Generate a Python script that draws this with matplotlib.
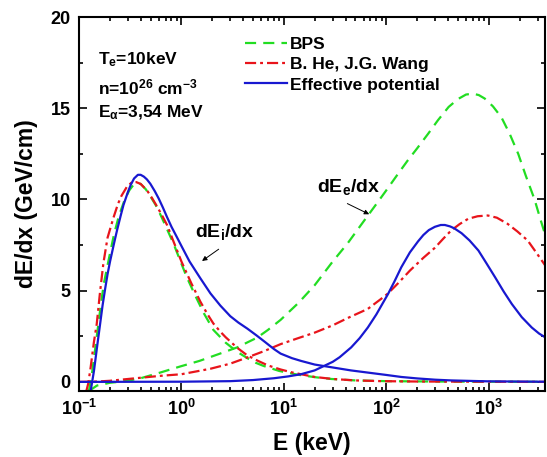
import numpy as np
import matplotlib
matplotlib.use('Agg')
import matplotlib.pyplot as plt
from matplotlib.ticker import LogLocator, NullFormatter, MultipleLocator

plt.rcParams['font.family'] = 'Liberation Sans'
plt.rcParams['font.weight'] = 'bold'
plt.rcParams['mathtext.fontset'] = 'custom'
plt.rcParams['mathtext.bf'] = 'Liberation Sans:bold'
plt.rcParams['mathtext.rm'] = 'Liberation Sans:bold'
plt.rcParams['mathtext.it'] = 'Liberation Sans:bold'
plt.rcParams['mathtext.default'] = 'bf'

# ---------- data (E in keV, dE/dx in GeV/cm) ----------
# ion stopping
E_bps_i = [0.125, 0.135, 0.15, 0.165, 0.175, 0.2, 0.22, 0.24, 0.26, 0.28, 0.31, 0.34, 0.37, 0.40,
           0.45, 0.5, 0.56, 0.62, 0.72, 0.84, 0.98, 1.13, 1.4, 1.66, 2.05, 2.7, 3.5, 4.4, 5.3, 6.3,
           9.0, 13.5, 20, 29, 50, 100, 300, 1000, 3540]
v_bps_i = [-0.5, 0.6, 2.6, 4.4, 5.4, 7.0, 8.1, 8.9, 9.5, 10.0, 10.5, 10.8, 10.9, 10.85,
           10.55, 10.15, 9.7, 9.2, 8.4, 7.56, 6.6, 5.73, 4.6, 3.75, 2.85, 2.15, 1.65, 1.3, 1.05, 0.88,
           0.6, 0.4, 0.26, 0.16, 0.08, 0.04, 0.02, 0.01, 0.0]

E_hw_i = [0.118, 0.123, 0.13, 0.14, 0.149, 0.16, 0.173, 0.19, 0.217, 0.24, 0.26, 0.294, 0.33, 0.362,
          0.40, 0.461, 0.52, 0.58, 0.65, 0.724, 0.85, 1.0, 1.25, 1.53, 1.8, 2.05, 2.4, 2.7, 3.5, 4.4,
          5.6, 7.0, 9.3, 12, 14.7, 20, 30, 50, 90, 200, 1000, 3540]
v_hw_i = [-0.5, -0.1, 0.8, 2.2, 3.17, 4.85, 6.5, 7.9, 9.0, 9.75, 10.2, 10.7, 10.95, 10.95,
          10.85, 10.5, 10.05, 9.6, 9.1, 8.6, 7.6, 6.6, 5.4, 4.4, 3.7, 3.2, 2.75, 2.45, 1.87, 1.45,
          1.15, 0.9, 0.68, 0.52, 0.42, 0.27, 0.16, 0.08, 0.04, 0.02, 0.01, 0.0]

E_eff_i = [0.130, 0.140, 0.150, 0.161, 0.17, 0.18, 0.19, 0.201, 0.22, 0.235, 0.255, 0.272, 0.3, 0.32,
           0.345, 0.376, 0.40, 0.43, 0.46, 0.497, 0.55, 0.6, 0.66, 0.724, 0.8, 0.9, 1.0, 1.2, 1.53,
           1.92, 2.4, 3.0, 3.6, 4.4, 5.4, 6.5, 8.0, 9.3, 12, 14.7, 20, 30, 45, 66, 100, 140, 200,
           300, 430, 700, 1000, 3540]
v_eff_i = [-0.5, 0.6, 1.9, 3.2, 4.2, 5.1, 5.9, 6.6, 7.6, 8.3, 9.1, 9.7, 10.4, 10.8,
           11.15, 11.35, 11.35, 11.25, 11.1, 10.86, 10.45, 10.05, 9.55, 9.03, 8.5, 7.95, 7.45, 6.6, 5.68,
           4.85, 4.18, 3.6, 3.25, 2.92, 2.55, 2.2, 1.8, 1.55, 1.3, 1.15, 0.95, 0.79, 0.63, 0.51, 0.38, 0.27, 0.19,
           0.12, 0.08, 0.05, 0.03, 0.01]

# electron stopping
E_bps_e = [0.125, 0.15, 0.2, 0.293, 0.4, 0.62, 0.98, 1.5, 2.3, 3.5, 5.5, 7.0, 9.3, 14, 20, 30, 42, 61,
           80, 100, 130, 162, 200, 256, 320, 406, 500, 600, 700, 800, 914, 1100, 1330, 1600, 1940,
           2300, 2800, 3200, 3540]
v_bps_e = [-0.5, -0.2, -0.05, 0.05, 0.2, 0.51, 0.85, 1.15, 1.52, 1.89, 2.43, 2.85, 3.4, 4.35, 5.3, 6.6, 7.6, 8.85,
           9.75, 10.5, 11.4, 12.14, 12.8, 13.6, 14.35, 15.07, 15.5, 15.75, 15.8, 15.72, 15.53, 15.1, 14.5, 13.6, 12.5,
           11.3, 10.0, 8.9, 8.1]

E_hw_e = [0.1, 0.15, 0.2, 0.29, 0.62, 1.0, 1.92, 3.0, 4.4, 6.5, 9.3, 14.7, 20, 30, 42, 66, 89, 104, 130,
          170, 230, 298, 360, 430, 520, 630, 780, 980, 1200, 1530, 1900, 2400, 2900, 3540]
v_hw_e = [0.0, 0.02, 0.06, 0.15, 0.33, 0.42, 0.72, 1.0, 1.34, 1.7, 2.07, 2.45, 2.7, 3.1, 3.5, 4.0, 4.55, 4.85, 5.4,
          6.1, 6.8, 7.35, 7.85, 8.3, 8.65, 8.94, 9.08, 9.12, 9.0, 8.66, 8.25, 7.75, 7.1, 6.4]

E_eff_e = [0.1, 1.0, 3.0, 5.0, 8.0, 11, 14.7, 20, 24.8, 30, 35, 45.4, 55, 66, 80, 104, 120, 140, 170,
           204, 230, 260, 298, 340, 373, 420, 460, 543, 650, 793, 950, 1155, 1400, 1680, 2100, 2630, 3100, 3540]
v_eff_e = [0.0, 0.01, 0.04, 0.1, 0.2, 0.3, 0.42, 0.63, 0.88, 1.1, 1.35, 1.89, 2.4, 2.98, 3.7, 4.82, 5.5, 6.28, 7.1,
           7.7, 8.05, 8.32, 8.5, 8.6, 8.6, 8.52, 8.42, 8.15, 7.75, 7.2, 6.5, 5.73, 4.95, 4.27, 3.55, 2.98, 2.65, 2.45]

green = '#22DD22'
red = '#E8141B'
blue = '#1818D0'
lw = 1.6

fig = plt.figure(figsize=(5.47, 4.57), dpi=100)
ax = fig.add_axes([0.1444, 0.1444, 0.8519, 0.8184])

dash_g = (0, (5, 3.2))
dash_r = (0, (5, 1.8, 1.3, 1.8))

l1, = ax.plot(E_bps_i, v_bps_i, color=green, lw=lw, linestyle=dash_g, label='BPS')
ax.plot(E_bps_e, v_bps_e, color=green, lw=lw, linestyle=dash_g)
l2, = ax.plot(E_hw_i, v_hw_i, color=red, lw=lw, linestyle=dash_r, label='B. He, J.G. Wang')
ax.plot(E_hw_e, v_hw_e, color=red, lw=lw, linestyle=dash_r)
l3, = ax.plot(E_eff_i, v_eff_i, color=blue, lw=lw, label='Effective potential')
ax.plot(E_eff_e, v_eff_e, color=blue, lw=lw)

ax.set_xscale('log')
ax.set_xlim(0.1, 3540)
ax.set_ylim(-0.5, 20)

ax.yaxis.set_major_locator(MultipleLocator(5))
ax.yaxis.set_minor_locator(MultipleLocator(2.5))
ax.xaxis.set_minor_locator(LogLocator(base=10, subs=np.arange(2, 10), numticks=10))
ax.xaxis.set_minor_formatter(NullFormatter())
ax.set_xticks([0.1, 1, 10, 100, 1000])
ax.set_xticklabels([r'$10^{-1}$', r'$10^{0}$', r'$10^{1}$', r'$10^{2}$', r'$10^{3}$'])

ax.tick_params(which='both', direction='in', top=True, right=True, labelsize=13, width=1.2)
ax.tick_params(which='major', length=6, pad=6)
ax.tick_params(which='minor', length=3)
for s in ax.spines.values():
    s.set_linewidth(1.5)

ax.set_xlabel('E (keV)', fontsize=16.5, fontweight='bold', labelpad=9)
ax.set_ylabel('dE/dx (GeV/cm)', fontsize=16.5, fontweight='bold', labelpad=9)

ax.legend(handles=[l1, l2, l3], loc='upper left', bbox_to_anchor=(0.33, 0.98), frameon=False,
          fontsize=12.5, handlelength=2.4, handletextpad=0.2, labelspacing=0.3, borderpad=0.2)

ax.text(0.04, 0.885, r'T$_e$=10keV', transform=ax.transAxes, fontsize=12.5, va='center')
ax.text(0.04, 0.812, r'n=10$^{26}$ cm$^{-3}$', transform=ax.transAxes, fontsize=12.5, va='center')
ax.text(0.04, 0.745, r'E$_\alpha$=3,54 MeV', transform=ax.transAxes, fontsize=12.5, va='center')

ax.text(43, 10.66, r'dE$_e$/dx', fontsize=14, ha='center', va='center')
ax.annotate('', xy=(72, 9.12), xytext=(39.4, 9.84),
            arrowprops=dict(arrowstyle='-|>', color='black', lw=0.7, mutation_scale=7))
ax.text(2.66, 8.19, r'dE$_i$/dx', fontsize=14, ha='center', va='center')
ax.annotate('', xy=(1.51, 6.54), xytext=(2.43, 7.36),
            arrowprops=dict(arrowstyle='-|>', color='black', lw=0.7, mutation_scale=7))

fig.savefig('out.png', dpi=100)
